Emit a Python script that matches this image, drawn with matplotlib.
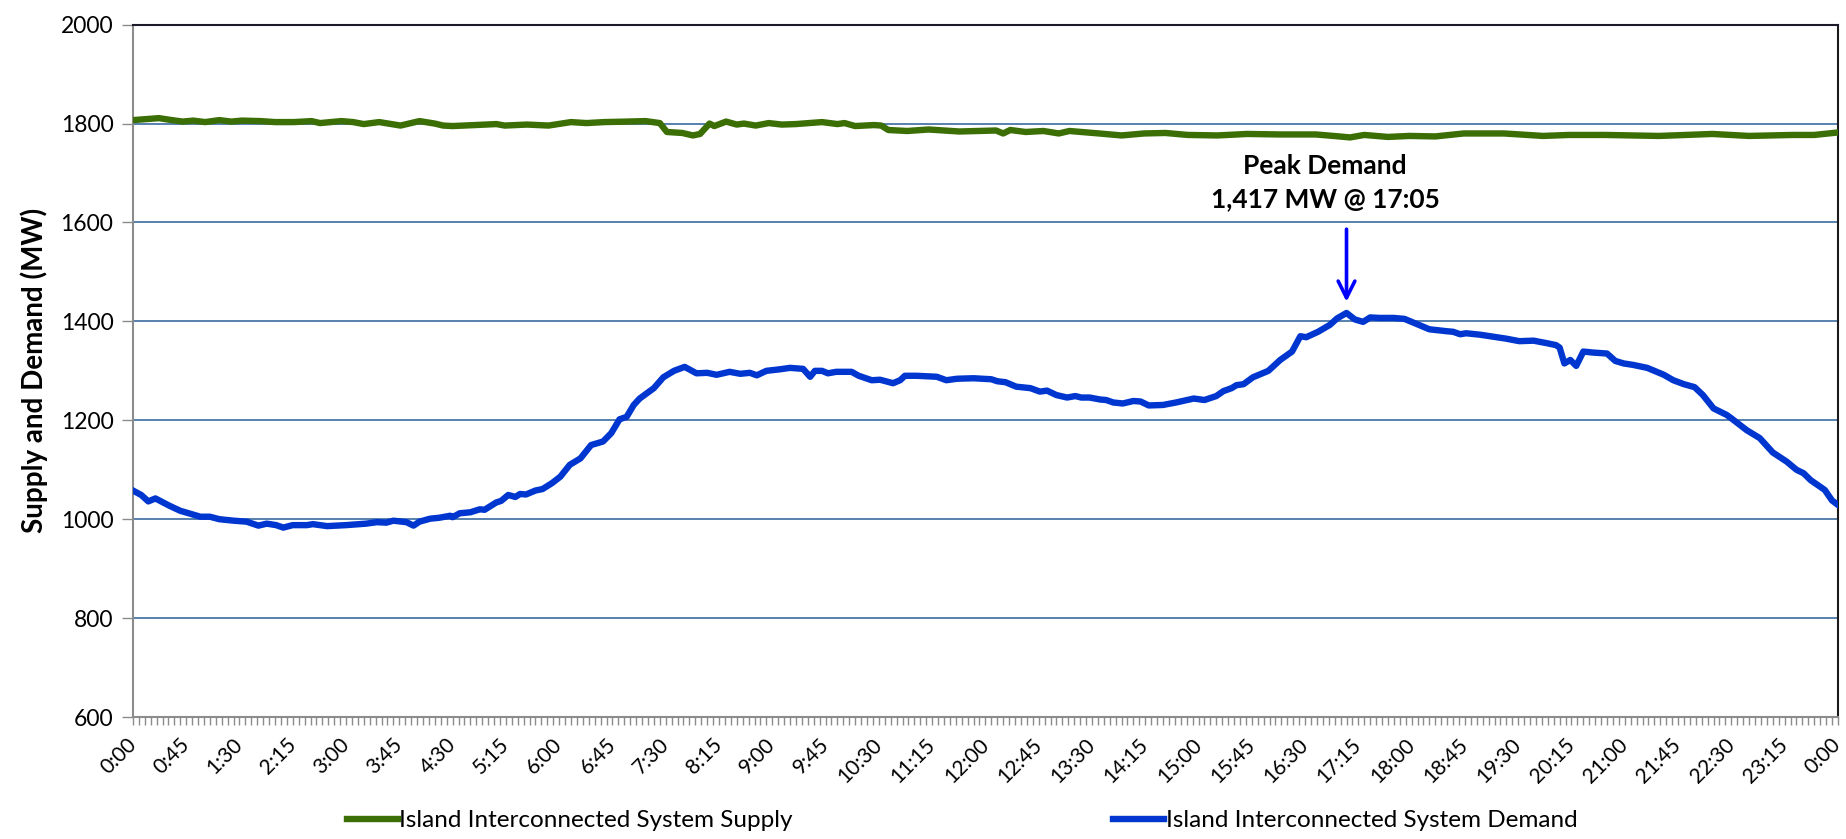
import matplotlib
matplotlib.use("Agg")
import matplotlib.pyplot as plt
import matplotlib.transforms as mtransforms
from matplotlib.ticker import MultipleLocator, FuncFormatter

plt.rcParams['font.family'] = ['Lato', 'DejaVu Sans']

# minutes after midnight, MW
supply_t = [0, 22, 30, 42, 51, 61, 73, 83, 92, 108, 120, 136, 151, 158, 176, 186, 195,
            208, 226, 242, 255, 262, 270, 289, 307, 314, 333, 351, 370, 383, 398, 417,
            433, 445, 451, 464, 473, 479, 487, 491, 501, 510, 516, 526, 537, 548, 560,
            582, 595, 601, 610, 626, 632, 638, 654, 672, 698, 729, 735, 741, 754, 769,
            782, 791, 816, 835, 854, 872, 891, 916, 941, 969, 999, 1014, 1028, 1040,
            1060, 1078, 1100, 1124, 1158, 1191, 1213, 1243, 1289, 1334, 1365, 1402,
            1420, 1440]
supply_mw = [1807, 1811, 1808, 1804, 1806, 1803, 1807, 1804, 1806, 1805, 1803, 1803, 1805,
             1801, 1805, 1803, 1799, 1803, 1796, 1805, 1800, 1796, 1795, 1797, 1799, 1796,
             1798, 1796, 1803, 1801, 1803, 1804, 1805, 1801, 1783, 1781, 1776, 1779, 1800,
             1795, 1804, 1798, 1800, 1796, 1801, 1798, 1799, 1803, 1799, 1801, 1795, 1797,
             1796, 1787, 1785, 1788, 1784, 1786, 1780, 1787, 1783, 1785, 1780, 1785, 1780,
             1776, 1780, 1781, 1777, 1776, 1779, 1778, 1778, 1775, 1772, 1777, 1773, 1775,
             1774, 1780, 1780, 1775, 1777, 1777, 1775, 1779, 1775, 1777, 1777, 1782]

demand_t = [0, 7, 13, 19, 31, 40, 57, 65, 73, 85, 96, 106, 113, 121, 127, 135, 147, 152,
            164, 180, 192, 197, 206, 214, 220, 231, 237, 242, 251, 259, 268, 270, 276, 285,
            293, 297, 307, 311, 317, 323, 327, 332, 340, 346, 354, 361, 369, 378, 387, 397,
            404, 411, 417, 423, 428, 440, 448, 457, 466, 476, 485, 493, 504, 513, 521, 527,
            535, 546, 555, 566, 572, 576, 582, 587, 594, 607, 613, 618, 624, 631, 642, 648,
            652, 662, 679, 687, 696, 710, 725, 730, 737, 746, 758, 766, 772, 780, 789, 796,
            801, 808, 817, 822, 828, 836, 845, 851, 858, 870, 881, 896, 905, 915, 921, 928,
            932, 938, 946, 959, 969, 979, 986, 991, 1001, 1011, 1017, 1025, 1032, 1039,
            1045, 1053, 1065, 1074, 1084, 1095, 1110, 1115, 1121, 1126, 1138, 1149, 1160,
            1171, 1183, 1194, 1202, 1205, 1209, 1214, 1219, 1225, 1233, 1245, 1252, 1259,
            1267, 1279, 1293, 1301, 1310, 1319, 1326, 1335, 1346, 1350, 1363, 1374, 1385,
            1397, 1405, 1411, 1417, 1429, 1435, 1440]
demand_mw = [1058, 1049, 1036, 1042, 1027, 1017, 1005, 1005, 1000, 997, 995, 987, 991, 988,
             983, 988, 988, 990, 986, 988, 990, 991, 994, 993, 997, 994, 987, 995, 1001,
             1003, 1007, 1004, 1012, 1014, 1020, 1019, 1034, 1037, 1049, 1045, 1051, 1050,
             1058, 1061, 1073, 1086, 1110, 1123, 1150, 1157, 1174, 1202, 1207, 1231, 1244,
             1265, 1287, 1300, 1308, 1295, 1296, 1292, 1298, 1294, 1296, 1291, 1300, 1303,
             1306, 1304, 1288, 1300, 1300, 1295, 1298, 1298, 1290, 1286, 1281, 1282, 1275,
             1281, 1290, 1290, 1288, 1281, 1284, 1285, 1283, 1279, 1277, 1268, 1265, 1258,
             1260, 1251, 1246, 1249, 1246, 1246, 1242, 1241, 1236, 1234, 1239, 1238, 1230,
             1231, 1236, 1244, 1241, 1249, 1259, 1265, 1271, 1273, 1287, 1300, 1322, 1339,
             1370, 1368, 1379, 1393, 1406, 1417, 1404, 1399, 1408, 1407, 1407, 1405, 1395,
             1384, 1380, 1379, 1374, 1376, 1373, 1369, 1365, 1360, 1361, 1356, 1352, 1347,
             1315, 1322, 1310, 1339, 1337, 1335, 1320, 1315, 1312, 1306, 1292, 1281, 1273,
             1267, 1251, 1224, 1211, 1204, 1180, 1164, 1135, 1116, 1100, 1093, 1079, 1059,
             1038, 1029]

peak_t = 1025
peak_mw = 1417

green = '#3b6e04'
blue = '#0036d0'

fig = plt.figure(figsize=(18.46, 8.39), dpi=100)
ax = fig.add_axes([0.072, 0.1454, 0.9236, 0.8252])

ax.plot(supply_t, supply_mw, color=green, lw=4.6, solid_joinstyle='round',
        label='Island Interconnected System Supply', zorder=3)
ax.plot(demand_t, demand_mw, color=blue, lw=4.6, solid_joinstyle='round',
        label='Island Interconnected System Demand', zorder=3)

ax.set_xlim(0, 1440)
ax.set_ylim(600, 2000)
ax.yaxis.set_major_locator(MultipleLocator(200))
ax.xaxis.set_major_locator(MultipleLocator(45))
ax.xaxis.set_minor_locator(MultipleLocator(5))


def hhmm(x, pos):
    m = int(round(x)) % 1440
    return f"{m // 60}:{m % 60:02d}"


ax.xaxis.set_major_formatter(FuncFormatter(hhmm))
ax.grid(axis='y', color='#4a76a8', lw=1.3, zorder=1)

ax.tick_params(axis='x', which='both', direction='out', length=6, width=1,
               color='#8c8c8c', labelsize=15, pad=8)
ax.tick_params(axis='y', direction='out', length=8, width=1, color='#8c8c8c',
               labelsize=16.5, pad=6)

# nudge rotated labels a little left so the last one stays inside
shift = mtransforms.ScaledTranslation(-7 / 100, 2 / 100, fig.dpi_scale_trans)
for lab in ax.get_xticklabels():
    lab.set_rotation(45)
    lab.set_ha('right')
    lab.set_rotation_mode('anchor')
    lab.set_transform(lab.get_transform() + shift)

ax.spines['left'].set_color('#8c8c8c')
ax.spines['bottom'].set_color('#8c8c8c')
ax.spines['left'].set_linewidth(1.5)
ax.spines['bottom'].set_linewidth(1.5)
ax.spines['top'].set_color('#1a1a2a')
ax.spines['right'].set_color('#1a1a1a')
ax.spines['top'].set_linewidth(1.5)
ax.spines['right'].set_linewidth(1.5)

ax.set_ylabel('Supply and Demand (MW)', fontsize=20, fontweight='bold', labelpad=9)

ax.annotate('', xy=(peak_t, peak_mw + 17), xytext=(peak_t, 1592),
            arrowprops=dict(arrowstyle='->', color='#0000ff', lw=2.6, mutation_scale=30))
ax.text(1007, 1681, f'Peak Demand\n{peak_mw:,} MW @ 17:05', ha='center', va='center',
        fontsize=19, fontweight='bold', linespacing=1.45)

fig.legend(loc='center left', bbox_to_anchor=(0.176, 0.022), ncol=2, frameon=False,
           fontsize=17.5, handlelength=2.1, handletextpad=0.05, columnspacing=13.2)

fig.savefig('out.png', dpi=100)
